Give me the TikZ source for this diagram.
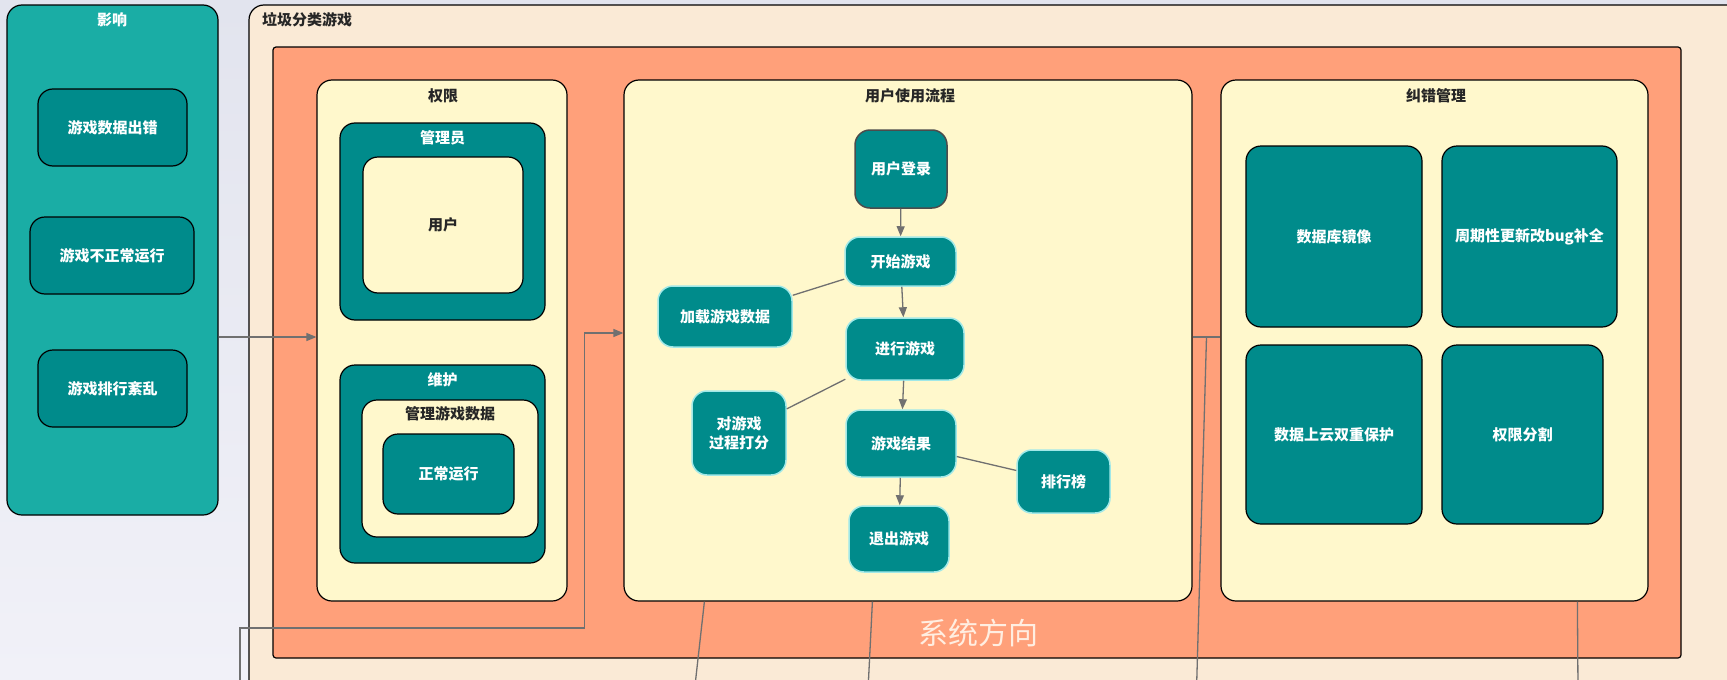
\documentclass[tikz,border=0pt]{standalone}
\usepackage{fontspec}
\setmainfont{Noto Sans CJK SC}
\usetikzlibrary{arrows.meta}

\definecolor{bgtop}{RGB}{226,228,238}
\definecolor{bgbottom}{RGB}{241,241,248}
\definecolor{bgteal}{RGB}{26,173,165}
\definecolor{boxteal}{RGB}{0,139,139}
\definecolor{salmon}{RGB}{255,160,122}
\definecolor{lemon}{RGB}{255,248,204}
\definecolor{antique}{RGB}{250,234,214}
\definecolor{wiregrey}{RGB}{112,112,112}
\definecolor{glowcyan}{RGB}{160,232,232}
\definecolor{syscream}{RGB}{255,238,225}

\begin{document}
\begin{tikzpicture}[x=1pt,y=-1pt,
  panel/.style={draw=black,line width=1.2pt,rounded corners=15pt,inner sep=0pt},
  darkbox/.style={panel,fill=boxteal,text=white,align=center,font=\bfseries\fontsize{15}{19}\selectfont},
  lightbox/.style={panel,fill=lemon,text=black!85,font=\bfseries\fontsize{15}{19}\selectfont},
  flowbox/.style={darkbox,draw=glowcyan,line width=1.5pt},
  paneltitle/.style={inner sep=0pt,text=black!85,font=\bfseries\fontsize{15}{18}\selectfont},
  wire/.style={draw=wiregrey,line width=1.3pt},
  wirearrow/.style={wire,-{Triangle[length=10pt,width=8pt]}}]
\useasboundingbox (0,0) rectangle (1727,680);
\clip (0,0) rectangle (1727,680);
\shade[top color=bgtop,bottom color=bgbottom] (0,0) rectangle (1727,680);

% 影响
\node[panel,fill=bgteal,minimum width=211pt,minimum height=510pt] (effect) at (112.5,260) {};
\node[paneltitle,text=white] (effecttitle) at (112,20) {影响};
\node[darkbox,minimum width=149pt,minimum height=77pt] (err1) at (112.5,127.5) {游戏数据出错};
\node[darkbox,minimum width=164pt,minimum height=77pt] (err2) at (112,255.5) {游戏不正常运行};
\node[darkbox,minimum width=149pt,minimum height=77pt] (err3) at (112.5,388.5) {游戏排行紊乱};

% 垃圾分类游戏 / 系统方向
\node[panel,fill=antique,minimum width=1511pt,minimum height=715pt] (game) at (1004.5,362.5) {};
\node[paneltitle,anchor=west] (gametitle) at (262,20) {垃圾分类游戏};
\node[panel,rounded corners=3pt,fill=salmon,minimum width=1408pt,minimum height=611pt] (sys) at (977,352.5) {};
\node[inner sep=0pt,text=syscream,font=\fontsize{30}{34}\selectfont] (systitle) at (978,633) {系统方向};

% 权限
\node[panel,fill=lemon,minimum width=250pt,minimum height=521pt] (perm) at (442,340.5) {};
\node[paneltitle] (permtitle) at (443,96) {权限};
\node[panel,fill=boxteal,minimum width=205pt,minimum height=197pt] (admin) at (442.5,221.5) {};
\node[paneltitle,text=white] (admintitle) at (442.5,138) {管理员};
\node[lightbox,minimum width=160pt,minimum height=136pt] (user) at (443,225) {用户};
\node[panel,fill=boxteal,minimum width=205pt,minimum height=198pt] (maint) at (442.5,464) {};
\node[paneltitle,text=white] (mainttitle) at (442.5,380) {维护};
\node[lightbox,minimum width=176pt,minimum height=137pt] (gamedata) at (450,468.5) {};
\node[paneltitle] (gamedatatitle) at (450,414) {管理游戏数据};
\node[darkbox,minimum width=131pt,minimum height=80pt] (normal) at (448.5,474) {正常运行};

% 用户使用流程
\node[panel,fill=lemon,minimum width=568pt,minimum height=521pt] (flow) at (908,340.5) {};
\node[paneltitle] (flowtitle) at (910,96) {用户使用流程};
\node[flowbox,draw=black!70,minimum width=92pt,minimum height=78pt] (login) at (901,169) {用户登录};
\node[flowbox,minimum width=111pt,minimum height=49pt] (start) at (900.5,261.5) {开始游戏};
\node[flowbox,minimum width=134pt,minimum height=61pt] (load) at (725,316.5) {加载游戏数据};
\node[flowbox,minimum width=118pt,minimum height=62pt] (play) at (905,349) {进行游戏};
\node[flowbox,minimum width=94pt,minimum height=84pt] (score) at (739,433) {对游戏\\过程打分};
\node[flowbox,minimum width=110pt,minimum height=67pt] (result) at (901,443.5) {游戏结果};
\node[flowbox,minimum width=93pt,minimum height=63pt] (rank) at (1063.5,481.5) {排行榜};
\node[flowbox,minimum width=100pt,minimum height=66pt] (quit) at (899,539) {退出游戏};

% 纠错管理
\node[panel,fill=lemon,minimum width=427pt,minimum height=521pt] (fix) at (1434.5,340.5) {};
\node[paneltitle] (fixtitle) at (1436,96) {纠错管理};
\node[darkbox,minimum width=176pt,minimum height=181pt] (mirror) at (1334,236.5) {数据库镜像};
\node[darkbox,minimum width=175pt,minimum height=181pt] (patch) at (1529.5,236.5) {周期性更新改bug补全};
\node[darkbox,minimum width=176pt,minimum height=179pt] (cloud) at (1334,434.5) {数据上云双重保护};
\node[darkbox,minimum width=161pt,minimum height=179pt] (split) at (1522.5,434.5) {权限分割};

% flow connectors
\draw[wirearrow] (login) -- (start);
\draw[wirearrow] (start) -- (play);
\draw[wirearrow] (play) -- (result);
\draw[wirearrow] (result) -- (quit);
\draw[wire] (start) -- (load);
\draw[wire] (play) -- (score);
\draw[wire] (result) -- (rank);

% outside connectors
\coordinate (permin) at ([yshift=3.5pt]perm.west);
\draw[wirearrow] (effect.east |- permin) -- (permin);
\coordinate (foot1) at (240,690);
\draw[wirearrow] (foot1) |- (584.5,628) |- ([yshift=7.5pt]flow.west);
\coordinate (foot2) at (694.5,690);
\draw[wire] ([xshift=81pt]flow.south west) -- (foot2);
\coordinate (foot3) at (868,690);
\draw[wire] ([xshift=249pt]flow.south west) -- (foot3);
\draw[wire] ([yshift=3.5pt]flow.east) -- coordinate[pos=0.5] (junction) ([yshift=3.5pt]fix.west);
\coordinate (foot4) at (1196.5,690);
\draw[wire] (junction) -- (foot4);
\coordinate (foot5) at (1578,690);
\draw[wire] ([xshift=357pt]fix.south west) -- (foot5);
\end{tikzpicture}
\end{document}
